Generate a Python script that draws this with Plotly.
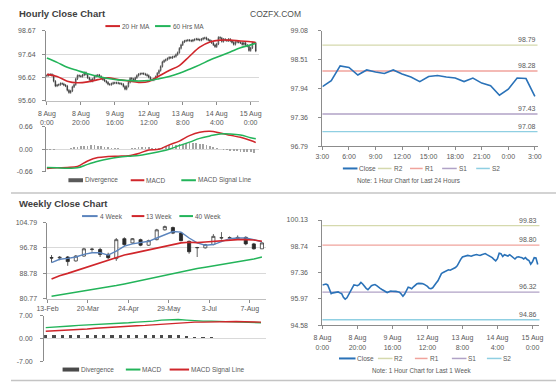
import plotly.graph_objects as go

W, H = 560, 386
def px(x): return x / W
def py(y): return 1 - y / H

FONT = "Liberation Sans, Arial, sans-serif"
TXT = "#595959"

# ---------------- DATA ----------------
# hourly closes, 8 Aug 0:00 .. 15 Aug 3:00 (trading hours)
hourly_close = [
    96.70, 96.74, 96.75, 96.70, 96.45, 96.24, 96.28, 96.30, 96.35, 96.33,
    96.28, 96.24, 96.05, 95.95, 96.02, 96.20, 96.30, 96.55, 96.70, 96.68,
    96.66, 96.72, 96.83, 96.75, 96.60, 96.52, 96.45, 96.55, 96.66, 96.70,
    96.72, 96.66, 96.57, 96.52, 96.46, 96.40, 96.32, 96.30, 96.34, 96.38,
    96.37, 96.38, 96.36, 96.34, 96.32, 96.22, 96.10, 96.22, 96.40, 96.58,
    96.55, 96.50, 96.60, 96.70, 96.76, 96.78, 96.79, 96.77, 96.74, 96.70,
    96.62, 96.52, 96.50, 96.55, 96.65, 96.80, 96.92, 97.10, 97.30, 97.36,
    97.40, 97.45, 97.50, 97.48, 97.52, 97.54, 97.62, 97.71, 97.90, 98.05,
    98.18, 98.22, 98.24, 98.26, 98.24, 98.22, 98.26, 98.29, 98.31, 98.28,
    98.26, 98.30, 98.34, 98.36, 98.30, 98.26, 98.22, 98.14, 98.05, 97.97,
    98.09, 98.38, 98.35, 98.20, 98.30, 98.26, 98.23, 98.30, 98.22, 98.16,
    98.07, 98.17, 98.19, 98.16, 98.14, 98.07, 98.14, 98.04, 97.99, 97.80,
    97.92, 98.14, 98.13, 97.78,
]
hourly_first_open = 96.68
hourly_wick = 0.05
hourly_tick_idx = [0, 20, 40, 60, 80, 100, 120]
hourly_tick_text = ["8 Aug<br>0:00", "8 Aug<br>20:00", "9 Aug<br>16:00", "12 Aug<br>12:00",
                    "13 Aug<br>8:00", "14 Aug<br>4:00", "15 Aug<br>0:00"]

ma_hours = [0, 6, 12, 18, 24, 30, 36, 42, 48, 54, 60, 66, 72, 78, 84, 90, 96, 102, 108, 114, 120, 123]
ma20 = [96.75, 96.66, 96.45, 96.38, 96.42, 96.52, 96.60, 96.52, 96.46, 96.40, 96.44,
        96.68, 96.92, 97.14, 97.55, 97.95, 98.18, 98.26, 98.26, 98.22, 98.19, 98.15]
ma60 = [97.47, 97.28, 97.06, 96.92, 96.78, 96.66, 96.57, 96.51, 96.48, 96.46, 96.48,
        96.56, 96.66, 96.80, 96.98, 97.17, 97.38, 97.56, 97.74, 97.92, 98.05, 98.12]

macd_h = [-0.56, -0.54, -0.53, -0.50, -0.34, -0.24, -0.21, -0.20, -0.19, -0.12, -0.02,
          0.00, 0.13, 0.24, 0.40, 0.50, 0.53, 0.48, 0.41, 0.35, 0.26, 0.20]
signal_h = [-0.53, -0.54, -0.55, -0.54, -0.44, -0.35, -0.28, -0.23, -0.20, -0.18, -0.13,
            -0.07, 0.00, 0.11, 0.21, 0.32, 0.39, 0.45, 0.45, 0.42, 0.34, 0.31]
div_hours = list(range(0, 124, 2))
div_h = [-0.02, -0.02, -0.01, 0.00, 0.01, 0.01, 0.02, 0.04, 0.06, 0.08, 0.10, 0.11, 0.11,
         0.12, 0.12, 0.11, 0.10, 0.08, 0.07, 0.05, 0.04, 0.03, 0.02, 0.01, 0.01, 0.03,
         0.05, 0.06, 0.07, 0.08, 0.07, 0.05, 0.03, 0.04, 0.07, 0.10, 0.12, 0.13, 0.14,
         0.15, 0.16, 0.18, 0.19, 0.19, 0.18, 0.17, 0.15, 0.12, 0.09, 0.06, 0.03, 0.01,
         -0.01, -0.03, -0.04, -0.05, -0.06, -0.07, -0.08, -0.08, -0.09, -0.10]

# last 24 hours (14 Aug 3:00 .. 15 Aug 3:00)
close_24h = [97.97, 98.09, 98.38, 98.35, 98.20, 98.30, 98.26, 98.23, 98.30, 98.22, 98.16,
             98.07, 98.17, 98.19, 98.16, 98.14, 98.07, 98.14, 98.04, 97.99, 97.80, 97.92,
             98.14, 98.13, 97.78]
tick_24h_idx = [0, 3, 6, 9, 12, 15, 18, 21, 24]
tick_24h_text = ["3:00", "6:00", "9:00", "12:00", "15:00", "18:00", "21:00", "0:00", "3:00"]
pivots_24h = {"R2": 98.79, "R1": 98.28, "S1": 97.43, "S2": 97.08}
pivots_week = {"R2": 99.83, "R1": 98.80, "S1": 96.32, "S2": 94.86}
pivot_colors = {"R2": "#d5d9ad", "R1": "#f0a39c", "S1": "#b0a2c6", "S2": "#8fcfe2"}

# weekly candles 13-Feb .. 14-Aug
wk_open = [93.71, 93.61, 93.92, 92.68, 94.23, 96.30, 96.30, 94.75, 93.40, 99.72, 98.38, 99.41,
           97.65, 99.41, 102.52, 103.24, 101.48, 98.89, 96.82, 96.82, 97.86, 99.93, 99.93,
           99.72, 100.14, 98.07, 96.51]
wk_high = [94.54, 94.23, 94.23, 94.54, 96.82, 96.82, 96.82, 95.27, 99.93, 100.14, 99.93, 99.72,
           99.41, 102.83, 103.87, 103.55, 101.80, 99.10, 97.13, 98.07, 101.17, 101.80, 100.45,
           100.76, 100.45, 98.38, 98.58]
wk_low = [92.16, 92.89, 91.13, 92.47, 94.03, 95.58, 93.92, 93.20, 92.68, 97.34, 98.07, 97.34,
          97.44, 99.20, 102.31, 101.17, 98.89, 94.96, 93.92, 96.61, 97.65, 99.41, 99.41,
          99.51, 97.65, 96.30, 96.51]
wk_close = [93.61, 93.82, 92.47, 94.23, 96.51, 96.41, 94.75, 93.71, 99.41, 97.86, 99.72, 97.65,
            99.10, 102.52, 103.55, 101.48, 99.10, 95.58, 96.93, 97.86, 100.45, 100.03, 100.03,
            100.14, 98.07, 96.51, 98.38]
wk_ma4 = [92.16, 93.20, 93.50, 93.92, 94.75, 95.27, 95.27, 94.54, 95.79, 97.34, 98.07, 98.58,
          98.89, 99.93, 100.97, 102.00, 101.80, 99.93, 98.38, 97.65, 97.86, 98.70, 99.72,
          99.93, 99.93, 99.41, 98.69]
wk_ma13 = [86.98, 88.02, 88.74, 89.57, 90.61, 91.44, 92.16, 92.89, 93.71, 94.54, 95.06, 95.58,
           96.10, 96.61, 97.13, 97.86, 98.38, 98.58, 98.48, 98.69, 98.89, 99.10, 99.31,
           99.41, 99.41, 99.31, 98.89]
wk_ma40 = [81.49, 81.90, 82.32, 82.70, 83.05, 83.45, 83.87, 84.40, 84.91, 85.40, 85.95, 86.45,
           86.98, 87.60, 88.22, 88.75, 89.26, 89.80, 90.30, 90.70, 91.13, 91.55, 91.95,
           92.30, 92.68, 93.30, 93.92]
wk_tick_pos = [-0.5, 4.5, 9.5, 14.5, 19.5, 24.5]
wk_tick_text = ["13-Feb", "20-Mar", "24-Apr", "29-May", "3-Jul", "7-Aug"]
wk_macd = [3.3, 3.4, 3.6, 3.8, 4.0, 4.1, 4.2, 4.4, 4.5, 4.6, 4.8, 5.0, 5.1, 5.3, 5.6, 5.8, 5.8,
           5.6, 5.4, 5.3, 5.3, 5.2, 5.1, 5.0, 5.0, 4.9, 4.8]
wk_signal = [2.2, 2.3, 2.5, 2.6, 2.8, 2.9, 3.1, 3.3, 3.5, 3.6, 3.8, 3.9, 4.0, 4.2, 4.4, 4.6, 4.7,
             4.8, 5.0, 5.0, 5.1, 5.2, 5.2, 5.2, 5.1, 5.1, 5.0]
wk_div = [1.1, 1.1, 1.1, 1.2, 1.2, 1.2, 1.2, 1.1, 1.1, 1.2, 1.2, 1.1, 1.1, 1.1, 1.2, 1.2, 1.1,
          0.8, 0.5, 0.4, 0.3, 0.2, 0.2, 0.1, 0.1, 0.1, 0.1]

# 1 week hourly close (same hourly series)
close_week = hourly_close

RED = "#d0262b"
GREEN = "#23b45a"
BLUE = "#2a72b8"
STEEL = "#5b84bd"

fig = go.Figure()

# ---------- hourly candles ----------
h_idx = list(range(len(hourly_close)))
h_open = [hourly_first_open] + hourly_close[:-1]
h_high = [max(o, c) + hourly_wick for o, c in zip(h_open, hourly_close)]
h_low = [min(o, c) - hourly_wick for o, c in zip(h_open, hourly_close)]
fig.add_trace(go.Candlestick(
    x=h_idx, open=h_open, high=h_high, low=h_low, close=hourly_close,
    xaxis="x", yaxis="y", hoverinfo="skip",
    increasing=dict(line=dict(color="#333333", width=0.7), fillcolor="#dddddd"),
    decreasing=dict(line=dict(color="#333333", width=0.7), fillcolor="#333333")))
fig.add_trace(go.Scatter(x=ma_hours, y=ma20, mode="lines", line=dict(color=RED, width=1.6, shape="spline"),
                         xaxis="x", yaxis="y"))
fig.add_trace(go.Scatter(x=ma_hours, y=ma60, mode="lines", line=dict(color=GREEN, width=1.6, shape="spline"),
                         xaxis="x", yaxis="y"))

# ---------- hourly MACD ----------
fig.add_trace(go.Bar(x=div_hours, y=div_h, width=1.0, marker=dict(color="#a3a3a3", line=dict(width=0)),
                     xaxis="x2", yaxis="y2"))
fig.add_trace(go.Scatter(x=ma_hours, y=macd_h, mode="lines", line=dict(color=RED, width=1.5, shape="spline"),
                         xaxis="x2", yaxis="y2"))
fig.add_trace(go.Scatter(x=ma_hours, y=signal_h, mode="lines", line=dict(color=GREEN, width=1.5, shape="spline"),
                         xaxis="x2", yaxis="y2"))

# ---------- 24h pivot ----------
fig.add_trace(go.Scatter(x=list(range(len(close_24h))), y=close_24h, mode="lines",
                         line=dict(color=BLUE, width=1.6), xaxis="x3", yaxis="y3"))

# ---------- weekly candles ----------
wk_idx = list(range(len(wk_close)))
fig.add_trace(go.Candlestick(
    x=wk_idx, open=wk_open, high=wk_high, low=wk_low, close=wk_close,
    xaxis="x4", yaxis="y4", hoverinfo="skip",
    increasing=dict(line=dict(color="#3a3a3a", width=0.8), fillcolor="white"),
    decreasing=dict(line=dict(color="#2a2a2a", width=0.8), fillcolor="#2a2a2a")))
fig.add_trace(go.Scatter(x=wk_idx, y=wk_ma4, mode="lines", line=dict(color=STEEL, width=1.4), xaxis="x4", yaxis="y4"))
fig.add_trace(go.Scatter(x=wk_idx, y=wk_ma13, mode="lines", line=dict(color=RED, width=1.6), xaxis="x4", yaxis="y4"))
fig.add_trace(go.Scatter(x=wk_idx, y=wk_ma40, mode="lines", line=dict(color=GREEN, width=1.5), xaxis="x4", yaxis="y4"))

# ---------- weekly MACD ----------
fig.add_trace(go.Bar(x=wk_idx, y=wk_div, width=0.38, marker=dict(color="#4a4a4a", line=dict(width=0)),
                     xaxis="x5", yaxis="y5"))
fig.add_trace(go.Scatter(x=wk_idx, y=wk_macd, mode="lines", line=dict(color=GREEN, width=1.4), xaxis="x5", yaxis="y5"))
fig.add_trace(go.Scatter(x=wk_idx, y=wk_signal, mode="lines", line=dict(color=RED, width=1.4), xaxis="x5", yaxis="y5"))

# ---------- 1 week pivot ----------
fig.add_trace(go.Scatter(x=list(range(len(close_week))), y=close_week, mode="lines",
                         line=dict(color=BLUE, width=1.6), xaxis="x6", yaxis="y6"))

# pivot level lines + labels
for (xa, ya, piv) in [("x3", "y3", pivots_24h), ("x6", "y6", pivots_week)]:
    for name, v in piv.items():
        fig.add_shape(type="line", xref=f"{xa} domain", yref=ya, x0=0, x1=1, y0=v, y1=v,
                      line=dict(color=pivot_colors[name], width=1.3), layer="below")
        fig.add_annotation(xref=f"{xa} domain", yref=ya, x=1, y=v, text=f"{v:.2f}", showarrow=False,
                           xanchor="right", yanchor="bottom", yshift=0,
                           font=dict(size=7, color=TXT, family=FONT))

tf = dict(size=7, color=TXT, family=FONT)
AX = "#8c8c8c"
GRID = "#d9d9d9"

def xax(d0, d1, rng, anchor, **kw):
    base = dict(domain=[px(d0), px(d1)], range=rng, anchor=anchor, showgrid=False, zeroline=False,
                tickfont=tf, fixedrange=True, rangeslider=dict(visible=False))
    base.update(kw)
    return base

def yax(top, bottom, rng, anchor, vals, texts, standoff, grid=False, **kw):
    base = dict(domain=[py(bottom), py(top)], range=rng, anchor=anchor, tickvals=vals, ticktext=texts,
                showgrid=grid, gridcolor=GRID, gridwidth=1, zeroline=False, showline=True, linecolor=AX,
                linewidth=1, ticks="outside", ticklen=3, tickcolor=AX, tickfont=tf,
                ticklabelstandoff=standoff, fixedrange=True)
    base.update(kw)
    return base

layout = dict(
    width=W, height=H, margin=dict(l=0, r=0, t=0, b=0),
    paper_bgcolor="white", plot_bgcolor="rgba(0,0,0,0)", showlegend=False,
    font=dict(family=FONT, size=7, color=TXT), boxgap=0.45, bargap=0,
    xaxis=xax(36, 255, [-0.5, 125], "y", tickvals=hourly_tick_idx, ticktext=hourly_tick_text,
              showline=True, linecolor="#bfbfbf", ticks="outside", ticklen=3, tickcolor=AX,
              ticklabelstandoff=3),
    yaxis=yax(27.3, 98.3, [95.60, 98.67], "x", [95.60, 96.62, 97.64, 98.67],
              ["95.60", "96.62", "97.64", "98.67"], 5, grid=True),
    xaxis2=xax(36, 255, [-0.5, 125], "y2", showticklabels=False),
    yaxis2=yax(125, 171, [-0.66, 0.66], "x2", [-0.66, 0, 0.66], ["-0.66", "0.00", "0.66"], 8, grid=True),
    xaxis3=xax(320, 541, [0, 24.3], "y3", tickvals=tick_24h_idx, ticktext=tick_24h_text,
               showline=True, linecolor=AX, ticks="outside", ticklen=3, tickcolor=AX),
    yaxis3=yax(27, 145, [96.79, 99.08], "x3", [96.79, 97.36, 97.94, 98.51, 99.08],
               ["96.79", "97.36", "97.94", "98.51", "99.08"], 9),
    xaxis4=xax(37.5, 262, [-0.5, 26.5], "y4", tickvals=wk_tick_pos, ticktext=wk_tick_text,
               showline=True, linecolor="#bfbfbf", ticks="outside", ticklen=3, tickcolor=AX),
    yaxis4=yax(222.7, 300, [80.77, 104.79], "x4", [80.77, 88.78, 96.78, 104.79],
               ["80.77", "88.78", "96.78", "104.79"], 5, grid=True),
    xaxis5=xax(34, 262, [-0.2, 26.6], "y5", showticklabels=False),
    yaxis5=yax(317.3, 364, [-7, 7], "x5", [-7, 0, 7], ["-7.00", "0.00", "7.00"], 6, grid=True),
    xaxis6=xax(320, 543, [0, 124], "y6", tickvals=hourly_tick_idx, ticktext=hourly_tick_text,
               showline=True, linecolor=AX, ticks="outside", ticklen=3, tickcolor=AX,
               ticklabelstandoff=3),
    yaxis6=yax(220, 327, [94.58, 100.13], "x6", [94.58, 95.97, 97.36, 98.74, 100.13],
               ["94.58", "95.97", "97.36", "98.74", "100.13"], 9),
)
fig.update_layout(**layout)

# ---------- text, legends, separators ----------
def text(x, y, s, size=6.5, color=TXT, anchor="left", bold=False):
    fig.add_annotation(xref="paper", yref="paper", x=px(x), y=py(y), text=f"<b>{s}</b>" if bold else s,
                       showarrow=False, xanchor=anchor, yanchor="middle", borderpad=0,
                       font=dict(size=size, color=color, family=FONT))

def legend_item(x0, x1, y, color, label, width=2):
    fig.add_shape(type="line", xref="paper", yref="paper", x0=px(x0), x1=px(x1), y0=py(y), y1=py(y),
                  line=dict(color=color, width=width))
    text(x1 + 1, y, label)

text(7, 9.5, "Hourly Close Chart", size=9.5, color="#404040", bold=True)
text(245, 10, "COZFX.COM", size=8.5, color="#505050")
legend_item(97, 112, 22.5, RED, "20 Hr MA")
legend_item(148, 164, 22.5, GREEN, "60 Hrs MA")
legend_item(59, 74, 179.5, "#5a5a5a", "Divergence", width=4)
legend_item(123, 137, 179.5, RED, "MACD")
legend_item(175, 190, 179.5, GREEN, "MACD Signal Line")

legend_item(341, 356, 167.5, BLUE, "Close")
legend_item(377, 391, 167.5, pivot_colors["R2"], "R2", width=1.5)
legend_item(410, 423, 167.5, pivot_colors["R1"], "R1", width=1.5)
legend_item(443, 458, 167.5, pivot_colors["S1"], "S1", width=1.5)
legend_item(478, 492, 167.5, pivot_colors["S2"], "S2", width=1.5)
text(408, 180, "Note: 1 Hour Chart for Last 24 Hours", size=6.3, anchor="center")

text(7, 203.5, "Weekly Close Chart", size=9.5, color="#404040", bold=True)
legend_item(73, 89, 216, STEEL, "4 Week")
legend_item(124, 137, 216, RED, "13 Week")
legend_item(173, 187, 216, GREEN, "40 Week")
legend_item(53, 70, 372.3, "#4a4a4a", "Divergence", width=4)
legend_item(118, 133, 372.3, GREEN, "MACD")
legend_item(163, 183, 372.3, RED, "MACD Signal Line")

legend_item(337, 354, 361, BLUE, "Close")
legend_item(377, 392, 361, pivot_colors["R2"], "R2", width=1.5)
legend_item(415, 428, 361, pivot_colors["R1"], "R1", width=1.5)
legend_item(453, 468, 361, pivot_colors["S1"], "S1", width=1.5)
legend_item(489, 504, 361, pivot_colors["S2"], "S2", width=1.5)
text(422, 373, "Note: 1 Hour Chart for Last 1 Week", size=6.3, anchor="center")

for yy in (192.5, 383.5):
    fig.add_shape(type="line", xref="paper", yref="paper", x0=0, x1=1, y0=py(yy), y1=py(yy),
                  line=dict(color="#c4c4c4", width=1.5))

fig.write_html("out.html", config={"displayModeBar": False, "staticPlot": True},
               post_script="document.body.style.margin='0px';document.body.style.overflow='hidden';")
